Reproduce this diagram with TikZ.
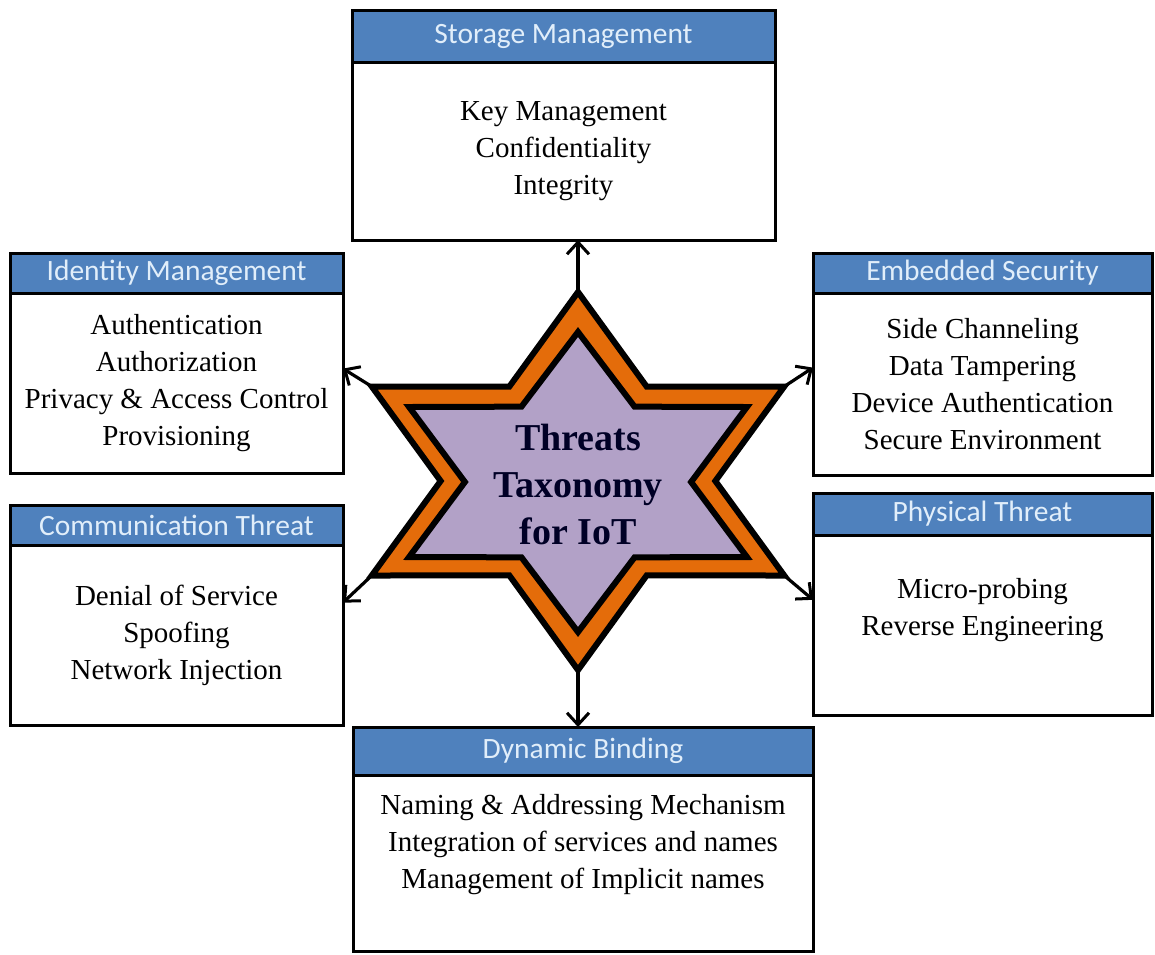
\documentclass[tikz,border=0pt]{standalone}
\usepackage{fontspec}
\setmainfont{Liberation Serif}
\newfontfamily\headfont{Carlito}
\usetikzlibrary{positioning,calc,arrows.meta}

\definecolor{headblue}{RGB}{79,129,189}
\definecolor{headtext}{RGB}{225,238,250}
\definecolor{starorange}{RGB}{228,108,10}
\definecolor{starlilac}{RGB}{178,161,199}

\tikzset{
  head/.style={draw, fill=headblue, text=headtext, line width=3pt, outer sep=0pt, inner sep=0pt,
    anchor=north west, font=\headfont\fontsize{29.5}{33}\selectfont},
  body/.style={draw, fill=white, line width=3pt, outer sep=0pt, inner sep=0pt, align=center,
    font=\fontsize{29}{37}\selectfont},
  link/.style={-{Straight Barb[length=12pt,width=22pt,line width=3pt]}, line width=3.2pt},
  starline/.style={draw=black, line width=6pt, line join=miter}
}

\begin{document}
\begin{tikzpicture}[x=1pt,y=-1pt]
  \useasboundingbox (0,0) rectangle (1155,954);

  % the six boxes
  \node[head, minimum width=423, minimum height=52] (storageHead) at (352,10) {Storage Management};
  \node[body, below=0pt of storageHead, minimum width=423, minimum height=178] (storage)
    {Key Management\\Confidentiality\\Integrity};

  \node[head, minimum width=333, minimum height=40] (identityHead) at (10,253) {Identity Management};
  \node[body, below=0pt of identityHead, minimum width=333, minimum height=180] (identity)
    {Authentication\\Authorization\\Privacy \& Access Control\\Provisioning};

  \node[head, minimum width=339, minimum height=40] (embeddedHead) at (813,253) {Embedded Security};
  \node[body, below=0pt of embeddedHead, minimum width=339, minimum height=182] (embedded)
    {Side Channeling\\Data Tampering\\Device Authentication\\Secure Environment};

  \node[head, minimum width=333, minimum height=40] (commHead) at (10,505) {Communication Threat};
  \node[body, below=0pt of commHead, minimum width=333, minimum height=180] (comm)
    {Denial of Service\\Spoofing\\Network Injection};

  \node[head, minimum width=339, minimum height=42] (physicalHead) at (813,493) {Physical Threat};
  \node[body, below=0pt of physicalHead, minimum width=339, minimum height=180] (physical)
    {Micro-probing\\Reverse Engineering\\\mbox{}};

  \node[head, minimum width=460, minimum height=48] (dynamicHead) at (353,727) {Dynamic Binding};
  \node[body, below=0pt of dynamicHead, minimum width=460, minimum height=176] (dynamic)
    {Naming \& Addressing Mechanism\\Integration of services and names\\Management of Implicit names\\[7pt]\mbox{}};

  % the star
  \begin{scope}[shift={(578,481)}, xscale=1.26]
    \draw[starline, fill=starorange] (90:189) -- (60:109) -- (30:189) -- (0:109) -- (-30:189) -- (-60:109)
      -- (-90:189) -- (-120:109) -- (-150:189) -- (180:109) -- (150:189) -- (120:109) -- cycle;
    \coordinate (tipN) at (-90:189);
    \coordinate (tipNE) at (-30:189);
    \coordinate (tipSE) at (30:189);
    \coordinate (tipS) at (90:189);
    \coordinate (tipSW) at (150:189);
    \coordinate (tipNW) at (-150:189);
  \end{scope}
  \begin{scope}[shift={(578,482)}, xscale=1.30]
    \draw[starline, fill=starlilac] (90:150) -- (60:87) -- (30:150) -- (0:87) -- (-30:150) -- (-60:87)
      -- (-90:150) -- (-120:87) -- (-150:150) -- (180:87) -- (150:150) -- (120:87) -- cycle;
  \end{scope}
  \node[align=center, text=black!85!blue, font=\bfseries\fontsize{38}{47}\selectfont] (title) at (578,484)
    {Threats\\Taxonomy\\for IoT};

  % arrows
  \draw[link] (tipN) -- (tipN |- storage.south);
  \draw[link] (tipNW) -- ($(identity.north east)!0.42!(identity.south east)$);
  \draw[link] (tipNE) -- ($(embedded.north west)!0.41!(embedded.south west)$);
  \draw[link] (tipSW) -- ($(comm.north east)!0.32!(comm.south east)$);
  \draw[link] (tipSE) -- ($(physical.north west)!0.36!(physical.south west)$);
  \draw[link] (tipS) -- (tipS |- dynamicHead.north);
\end{tikzpicture}
\end{document}
